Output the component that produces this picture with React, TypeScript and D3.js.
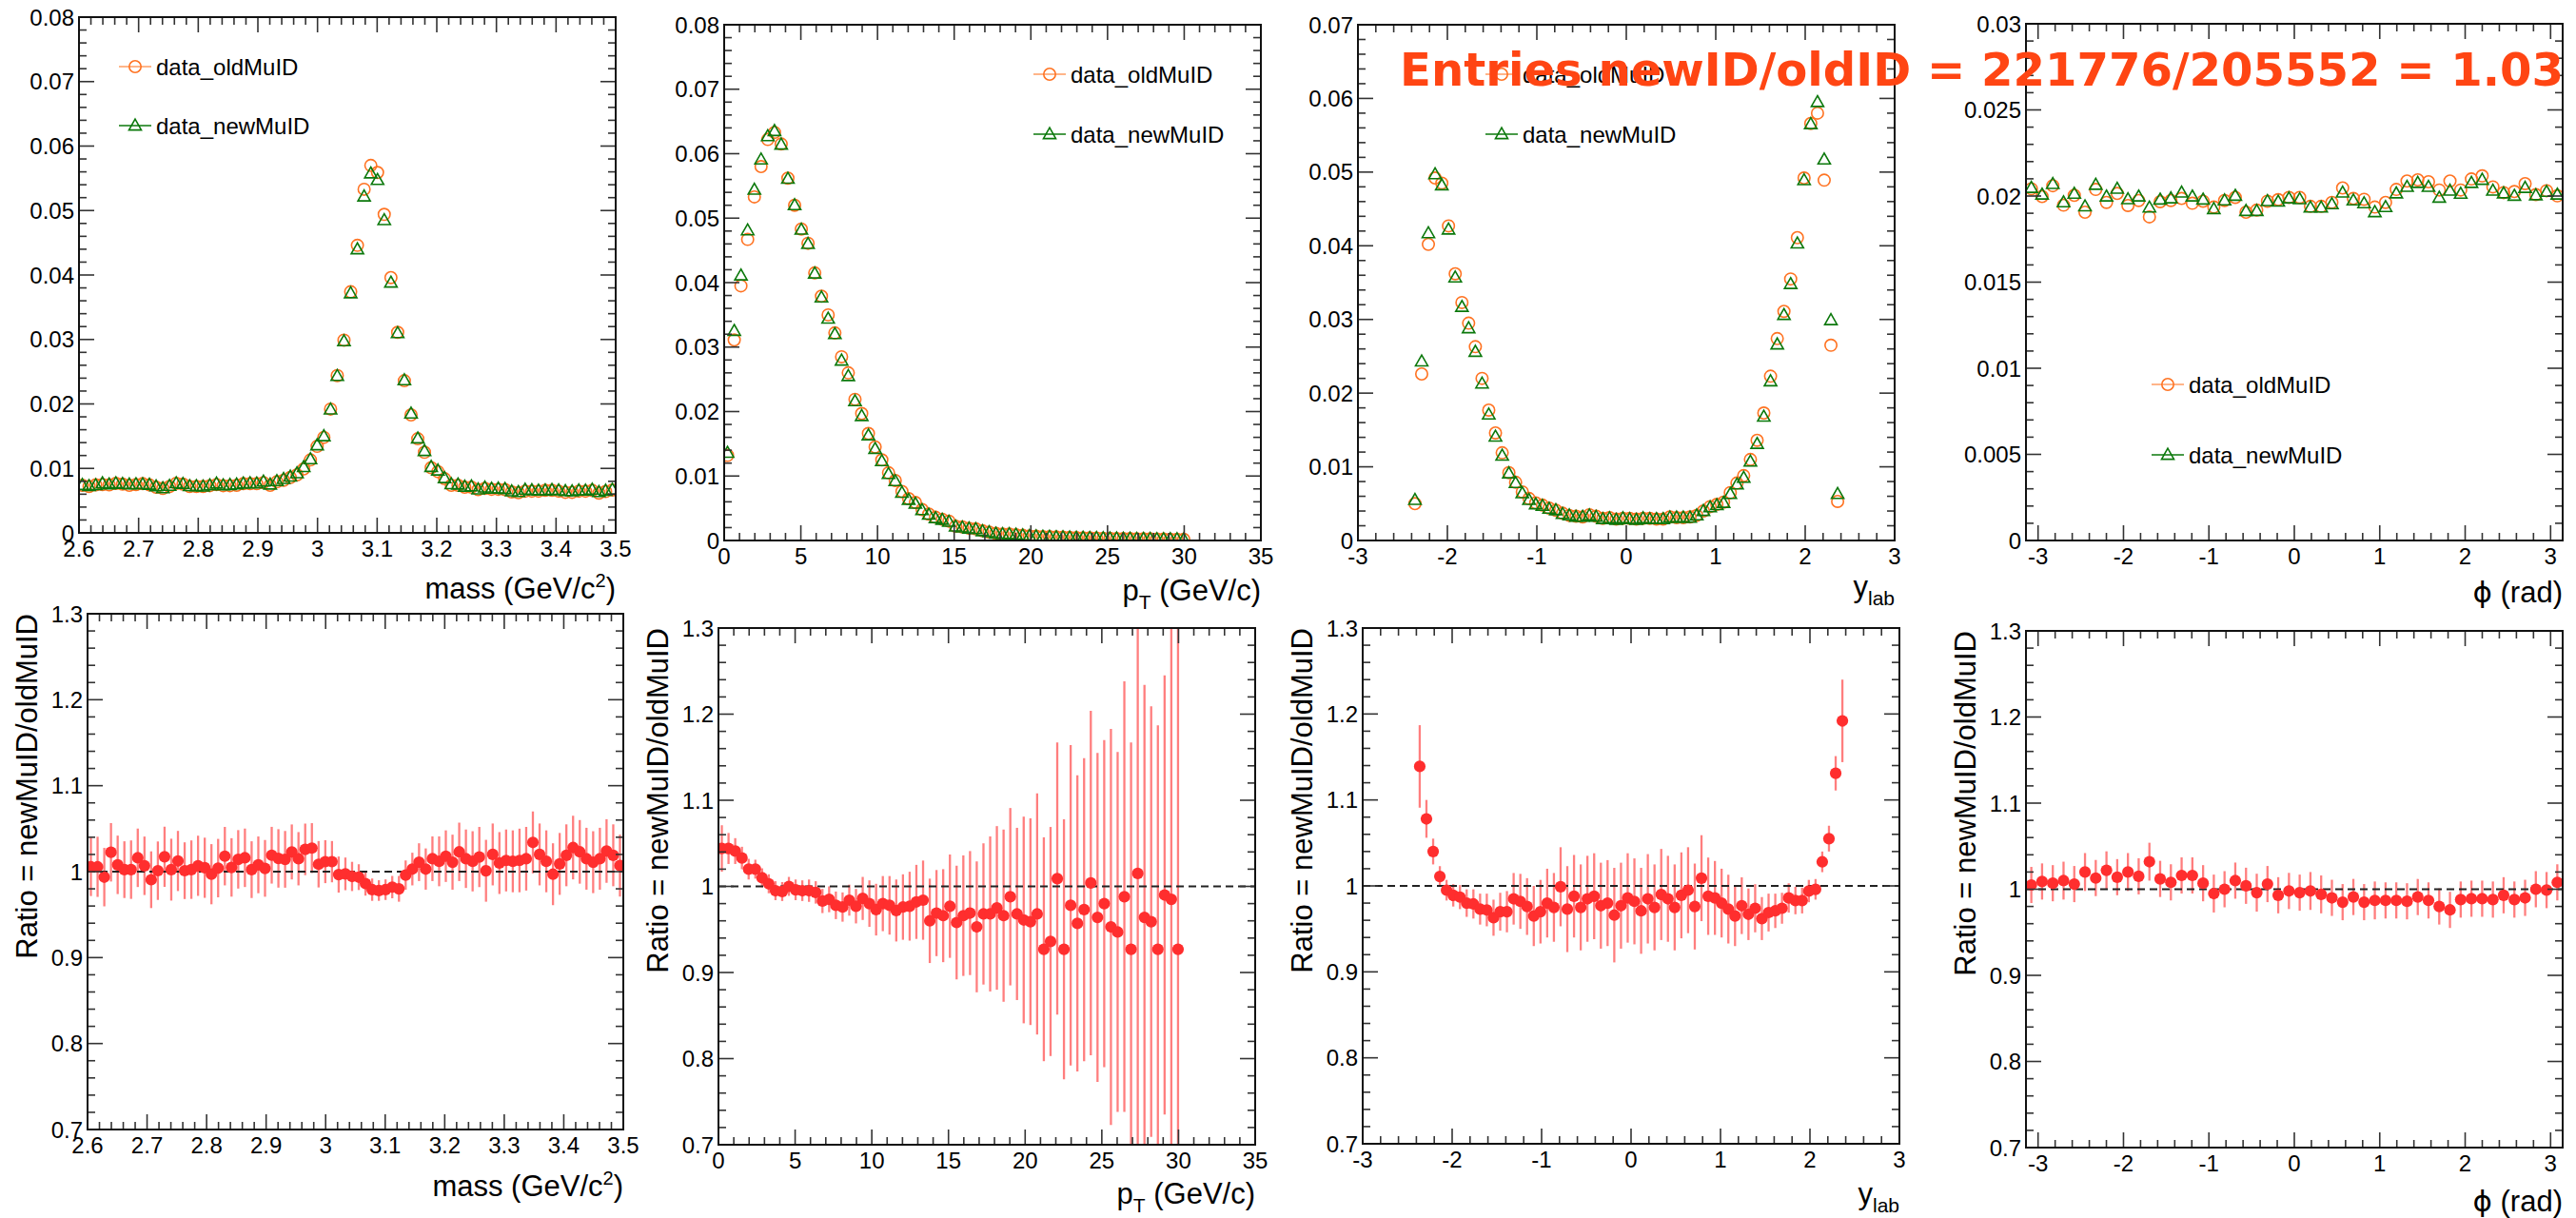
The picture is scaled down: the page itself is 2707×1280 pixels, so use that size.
import React from "react";
import * as d3 from "d3";

// ---------------- binning (lo, hi, number of bins, first filled bin) ----------------
const massBinning = { lo: 2.6, hi: 3.5, nbins: 80, first: 0 };
const ptBinning = { lo: 0, hi: 35, nbins: 80, first: 0 };
const yBinning = { lo: -3, hi: 3, nbins: 80, first: 8 };
const phiBinning = { lo: -Math.PI, hi: Math.PI, nbins: 50, first: 0 };

// ---------------- mass ----------------
const massOld = [
  0.00738, 0.0072, 0.00744, 0.0075, 0.00744, 0.00768, 0.00756, 0.00738, 0.0075, 0.00762,
  0.00744, 0.00708, 0.00689, 0.0072, 0.00768, 0.00756, 0.0072, 0.0072, 0.0072, 0.00732,
  0.0075, 0.00732, 0.00732, 0.00738, 0.00762, 0.00762, 0.00762, 0.0078, 0.00738, 0.00792,
  0.00816, 0.00859, 0.00901, 0.00992, 0.01131, 0.01342, 0.01481, 0.0192, 0.0244, 0.0299,
  0.0374, 0.0446, 0.0533, 0.057, 0.0559, 0.0494, 0.0396, 0.0311, 0.0236, 0.0183,
  0.0146, 0.0125, 0.0101, 0.0095, 0.0084, 0.00738, 0.00738, 0.00708, 0.00708, 0.00671,
  0.00689, 0.00677, 0.00677, 0.00671, 0.00635, 0.00623, 0.00647, 0.00647, 0.00647, 0.00659,
  0.00659, 0.00647, 0.00629, 0.00629, 0.00647, 0.00647, 0.00659, 0.00617, 0.00641, 0.00665,
];
const massNew = [
  0.00742, 0.00724, 0.00739, 0.00767, 0.0075, 0.0077, 0.00758, 0.0075, 0.00755, 0.00755,
  0.00745, 0.0072, 0.00691, 0.00729, 0.00769, 0.00758, 0.00725, 0.00723, 0.00718, 0.00735,
  0.00764, 0.00736, 0.00742, 0.0075, 0.00764, 0.00768, 0.00765, 0.00795, 0.00749, 0.00803,
  0.00835, 0.00872, 0.00924, 0.01019, 0.01141, 0.01358, 0.01498, 0.01914, 0.02434, 0.02973,
  0.03716, 0.04398, 0.05218, 0.05575, 0.05473, 0.04851, 0.03881, 0.03098, 0.02367, 0.0185,
  0.01464, 0.01269, 0.01022, 0.00967, 0.00849, 0.00755, 0.00749, 0.00716, 0.0072, 0.00672,
  0.00703, 0.00684, 0.00686, 0.00679, 0.00643, 0.00632, 0.00669, 0.0066, 0.00655, 0.00657,
  0.00665, 0.00659, 0.00647, 0.00643, 0.00657, 0.00654, 0.00669, 0.00632, 0.00653, 0.0067,
];
const massRatio = [
  1.0056, 1.0056, 0.9936, 1.0225, 1.0079, 1.0023, 1.0023, 1.0161, 1.0068, 0.9906,
  1.0011, 1.0173, 1.0023, 1.0124, 1.0011, 1.0023, 1.0068, 1.0045, 0.997, 1.0041,
  1.018, 1.0049, 1.0143, 1.0161, 1.0023, 1.0079, 1.0038, 1.0191, 1.0154, 1.0143,
  1.0229, 1.015, 1.0259, 1.0274, 1.0086, 1.0116, 1.0116, 0.9966, 0.9974, 0.9944,
  0.9936, 0.9861, 0.979, 0.978, 0.979, 0.982, 0.98, 0.996, 1.003, 1.011,
  1.003, 1.015, 1.012, 1.018, 1.011, 1.023, 1.015, 1.012, 1.017, 1.001,
  1.02, 1.01, 1.013, 1.012, 1.013, 1.015, 1.034, 1.02, 1.012, 0.997,
  1.009, 1.019, 1.028, 1.023, 1.015, 1.011, 1.015, 1.024, 1.019, 1.007,
];
const massErr = [
  0.034, 0.035, 0.034, 0.034, 0.034, 0.033, 0.034, 0.034, 0.034, 0.033,
  0.034, 0.035, 0.036, 0.035, 0.033, 0.034, 0.035, 0.035, 0.035, 0.034,
  0.034, 0.034, 0.034, 0.034, 0.033, 0.033, 0.033, 0.033, 0.034, 0.033,
  0.032, 0.031, 0.03, 0.029, 0.027, 0.025, 0.024, 0.021, 0.019, 0.017,
  0.015, 0.014, 0.013, 0.012, 0.012, 0.013, 0.015, 0.017, 0.019, 0.022,
  0.024, 0.026, 0.029, 0.03, 0.032, 0.034, 0.034, 0.035, 0.035, 0.036,
  0.036, 0.036, 0.036, 0.036, 0.037, 0.037, 0.036, 0.036, 0.036, 0.036,
  0.036, 0.036, 0.037, 0.037, 0.036, 0.036, 0.036, 0.037, 0.036, 0.036,
];

// ---------------- pT ----------------
const ptOld = [
  0.0132, 0.0311, 0.0395, 0.0467, 0.0533, 0.058, 0.0622, 0.0633, 0.0615, 0.0562,
  0.052, 0.0483, 0.0461, 0.0415, 0.0379, 0.035, 0.0322, 0.0285, 0.026, 0.0219,
  0.0197, 0.0166, 0.0145, 0.0125, 0.0105, 0.0093, 0.0076, 0.0065, 0.0059, 0.0048,
  0.0041, 0.0036, 0.0033, 0.003, 0.0022, 0.0021, 0.0019, 0.0018, 0.0015, 0.0013,
  0.0011, 0.001, 0.001, 0.0009, 0.0008, 0.0007, 0.00066, 0.0006, 0.0006, 0.00054,
  0.0005, 0.00047, 0.00044, 0.00042, 0.0004, 0.00037, 0.00035, 0.00033, 0.00031, 0.0003,
  0.00028, 0.00026, 0.00025, 0.00024, 0.00022, 0.00021, 0.0002, 0.00019, 0.00018,
];
const ptNew = [
  0.0136, 0.0325, 0.0411, 0.0481, 0.0544, 0.0591, 0.0627, 0.0635, 0.0614, 0.0561,
  0.052, 0.0482, 0.046, 0.0414, 0.0377, 0.0344, 0.032, 0.0279, 0.0255, 0.0216,
  0.0193, 0.0163, 0.0142, 0.0123, 0.0103, 0.0092, 0.0074, 0.0063, 0.0057, 0.0047,
  0.004, 0.00346, 0.0032, 0.0029, 0.00215, 0.00201, 0.00184, 0.00174, 0.00143, 0.00126,
  0.00106, 0.00098, 0.00097, 0.00089, 0.00077, 0.00067, 0.00063, 0.00058, 0.00056, 0.00051,
  0.0005, 0.00044, 0.00043, 0.0004, 0.00039, 0.00037, 0.00034, 0.00032, 0.0003, 0.00028,
  0.00028, 0.00024, 0.00025, 0.00023, 0.00021, 0.00019, 0.0002, 0.00019, 0.00017,
];
const ptRatio = [
  1.044, 1.044, 1.041, 1.033, 1.02, 1.02, 1.01, 1.003, 0.995, 0.994,
  1.0, 0.996, 0.995, 0.995, 0.993, 0.983, 0.985, 0.978, 0.976, 0.984,
  0.977, 0.986, 0.98, 0.973, 0.98, 0.978, 0.972, 0.976, 0.977, 0.982,
  0.984, 0.96, 0.969, 0.966, 0.977, 0.958, 0.966, 0.969, 0.953, 0.968,
  0.968, 0.975, 0.966, 0.988, 0.968, 0.961, 0.959, 0.968, 0.927, 0.936,
  1.009, 0.927, 0.978, 0.957, 0.973, 1.004, 0.964, 0.98, 0.953, 0.947,
  0.988, 0.927, 1.015, 0.964, 0.959, 0.927, 0.99, 0.985, 0.927,
];
const ptErr = [
  0.027, 0.018, 0.015, 0.013, 0.012, 0.011, 0.011, 0.011, 0.011, 0.011,
  0.011, 0.012, 0.012, 0.013, 0.013, 0.014, 0.015, 0.016, 0.017, 0.018,
  0.02, 0.025, 0.027, 0.03, 0.032, 0.034, 0.036, 0.038, 0.04, 0.043,
  0.046, 0.049, 0.05, 0.054, 0.06, 0.066, 0.07, 0.072, 0.076, 0.082,
  0.09, 0.095, 0.1, 0.103, 0.1, 0.12, 0.12, 0.14, 0.13, 0.133,
  0.158, 0.151, 0.186, 0.172, 0.176, 0.2, 0.191, 0.19, 0.23, 0.209,
  0.25, 0.24, 0.33, 0.27, 0.25, 0.26, 0.255, 0.33, 0.4,
];

// ---------------- y_lab ----------------
const yOld = [
  0.005, 0.0226, 0.0402, 0.0492, 0.0485, 0.0427, 0.0362, 0.0323, 0.0295, 0.0263,
  0.022, 0.0177, 0.0146, 0.0119, 0.0092, 0.0079, 0.0066, 0.0057, 0.0051, 0.0048,
  0.0044, 0.0041, 0.0037, 0.0034, 0.0033, 0.0032, 0.0035, 0.0033, 0.003, 0.0031,
  0.0029, 0.003, 0.003, 0.0029, 0.003, 0.003, 0.0029, 0.0029, 0.0032, 0.0031,
  0.0031, 0.0032, 0.0034, 0.004, 0.0046, 0.0049, 0.0052, 0.0065, 0.0078, 0.0088,
  0.011, 0.0136, 0.0173, 0.0223, 0.0274, 0.0311, 0.0355, 0.0411, 0.0492, 0.0566,
  0.058, 0.0489, 0.0265, 0.0053,
];
const yNew = [
  0.0055, 0.0243, 0.0417, 0.0497, 0.0482, 0.0422, 0.0357, 0.0317, 0.0288, 0.0256,
  0.0213, 0.0171, 0.0141, 0.0115, 0.0091, 0.0078, 0.0064, 0.0055, 0.0049, 0.0047,
  0.0043, 0.0041, 0.0036, 0.0034, 0.0032, 0.0032, 0.0034, 0.0032, 0.0029, 0.003,
  0.0028, 0.003, 0.0029, 0.0028, 0.003, 0.0029, 0.0029, 0.0029, 0.0031, 0.0031,
  0.0031, 0.0031, 0.0034, 0.004, 0.0045, 0.0048, 0.0051, 0.0063, 0.0076, 0.0085,
  0.0107, 0.0131, 0.0168, 0.0216, 0.0266, 0.0306, 0.0348, 0.0403, 0.0489, 0.0565,
  0.0595, 0.0517, 0.0299, 0.0063,
];
const yRatio = [
  1.139, 1.078, 1.04, 1.011, 0.995, 0.989, 0.987, 0.98, 0.979, 0.973,
  0.972, 0.963, 0.97, 0.97, 0.985, 0.982, 0.976, 0.965, 0.97, 0.98,
  0.975, 0.999, 0.973, 0.988, 0.975, 0.985, 0.988, 0.977, 0.98, 0.966,
  0.977, 0.986, 0.982, 0.971, 0.985, 0.975, 0.99, 0.985, 0.975, 0.989,
  0.995, 0.976, 1.009, 0.988, 0.986, 0.98, 0.973, 0.965, 0.977, 0.967,
  0.974, 0.962, 0.969, 0.971, 0.974, 0.986, 0.983, 0.983, 0.994, 0.996,
  1.028, 1.055, 1.131, 1.192,
];
const yErr = [
  0.048, 0.022, 0.015, 0.012, 0.012, 0.013, 0.014, 0.016, 0.017, 0.018,
  0.019, 0.021, 0.022, 0.024, 0.03, 0.032, 0.033, 0.035, 0.037, 0.04,
  0.04, 0.046, 0.05, 0.048, 0.05, 0.05, 0.05, 0.05, 0.05, 0.055,
  0.05, 0.052, 0.05, 0.05, 0.052, 0.05, 0.053, 0.05, 0.05, 0.05,
  0.05, 0.05, 0.05, 0.045, 0.043, 0.04, 0.04, 0.035, 0.033, 0.03,
  0.028, 0.025, 0.022, 0.02, 0.018, 0.017, 0.016, 0.015, 0.013, 0.012,
  0.012, 0.015, 0.02, 0.048,
];

// ---------------- phi ----------------
const phiOld = [
  0.02042, 0.01997, 0.0206, 0.01947, 0.02004, 0.01906, 0.02038, 0.01963, 0.02015, 0.01945,
  0.01974, 0.01879, 0.01967, 0.01974, 0.01986, 0.01958, 0.0197, 0.01936, 0.01974, 0.01992,
  0.01906, 0.01918, 0.0197, 0.01979, 0.01992, 0.01992, 0.0194, 0.0194, 0.01963, 0.02047,
  0.01986, 0.01981, 0.01936, 0.01963, 0.02038, 0.02087, 0.02094, 0.02083, 0.02035, 0.02087,
  0.02035, 0.02099, 0.02117, 0.02053, 0.0202, 0.02026, 0.02072, 0.02008, 0.02031, 0.02001,
];
const phiNew = [
  0.02047, 0.02008, 0.0207, 0.01963, 0.02013, 0.0194, 0.02065, 0.01997, 0.02042, 0.01981,
  0.01997, 0.01933, 0.01979, 0.01986, 0.0202, 0.01997, 0.01979, 0.01924, 0.01974, 0.02001,
  0.01913, 0.01913, 0.0197, 0.01967, 0.01986, 0.01981, 0.01933, 0.01933, 0.01952, 0.0202,
  0.01974, 0.01958, 0.01906, 0.01936, 0.02015, 0.02053, 0.02076, 0.02053, 0.0199, 0.02031,
  0.02013, 0.02076, 0.02094, 0.02031, 0.02015, 0.02001, 0.02047, 0.02004, 0.02024, 0.02008,
];
const phiRatio = [
  1.005, 1.009, 1.007, 1.01, 1.006, 1.02, 1.013, 1.022, 1.014, 1.02,
  1.015, 1.032, 1.012, 1.008, 1.016, 1.016, 1.007, 0.995, 1.0, 1.01,
  1.004, 0.996, 1.006, 0.993, 0.998, 0.996, 0.998, 0.994, 0.99, 0.985,
  0.991, 0.985, 0.987, 0.987, 0.987, 0.986, 0.991, 0.987, 0.98, 0.976,
  0.988, 0.989, 0.989, 0.988, 0.993, 0.988, 0.99, 1.0, 0.999, 1.008,
];
const phiErr = [
  0.021, 0.021, 0.021, 0.022, 0.021, 0.022, 0.021, 0.022, 0.021, 0.022,
  0.021, 0.022, 0.021, 0.021, 0.021, 0.021, 0.021, 0.022, 0.021, 0.021,
  0.021, 0.022, 0.021, 0.021, 0.021, 0.021, 0.022, 0.022, 0.021, 0.021,
  0.021, 0.021, 0.022, 0.021, 0.021, 0.021, 0.021, 0.021, 0.021, 0.021,
  0.021, 0.021, 0.021, 0.021, 0.021, 0.021, 0.021, 0.021, 0.021, 0.021,
];

const legendLabels = ["data_oldMuID", "data_newMuID"];
const entriesText = "Entries newID/oldID = 221776/205552 = 1.03";
const ratioTitle = "Ratio = newMuID/oldMuID";

// ---------------- styling / layout ----------------
const W = 2707;
const H = 1280;
const FONT = "'Liberation Sans', Arial, Helvetica, sans-serif";
const ORANGE = "#ff7322";
const ORANGE_LINE = "#ff9d62";
const GREEN = "#0b780b";
const RED = "#ff2e2e";

type Bin = { lo: number; hi: number; nbins: number; first: number };
type Box = { x0: number; y0: number; x1: number; y1: number };

const centers = (b: Bin, n: number) =>
  d3.range(n).map((i) => b.lo + ((b.first + i + 0.5) * (b.hi - b.lo)) / b.nbins);

const tickVals = (lo: number, hi: number, step: number) => {
  const a = Math.ceil(lo / step - 1e-6);
  const b = Math.floor(hi / step + 1e-6);
  return d3.range(a, b + 1).map((k) => +(k * step).toFixed(10));
};
const fmt = (v: number) => {
  const s = parseFloat(v.toFixed(6));
  return (Object.is(s, -0) ? 0 : s).toString();
};

type AxisSpec = { dom: [number, number]; major: number; minor: number };

function Frame({ box, xa, ya, xTitle, yTitle, titleDy }: { box: Box; xa: AxisSpec; ya: AxisSpec; xTitle: React.ReactNode; yTitle?: string; titleDy: number }) {
  const xs = d3.scaleLinear().domain(xa.dom).range([box.x0, box.x1]);
  const ys = d3.scaleLinear().domain(ya.dom).range([box.y1, box.y0]);
  const MAJ = 16;
  const MIN = 8;
  const xMaj = tickVals(xa.dom[0], xa.dom[1], xa.major);
  const xMin = tickVals(xa.dom[0], xa.dom[1], xa.minor);
  const yMaj = tickVals(ya.dom[0], ya.dom[1], ya.major);
  const yMin = tickVals(ya.dom[0], ya.dom[1], ya.minor);
  const isMaj = (v: number, step: number) => Math.abs(v / step - Math.round(v / step)) < 1e-6;
  const tk = "#333";
  return (
    <g>
      {xMin.map((v, i) => {
        const L = isMaj(v, xa.major) ? MAJ : MIN;
        const x = xs(v);
        return (
          <g key={"xt" + i}>
            <line x1={x} x2={x} y1={box.y1} y2={box.y1 - L} stroke={tk} strokeWidth={1.6} />
            <line x1={x} x2={x} y1={box.y0} y2={box.y0 + L} stroke={tk} strokeWidth={1.6} />
          </g>
        );
      })}
      {yMin.map((v, i) => {
        const L = isMaj(v, ya.major) ? MAJ : MIN;
        const y = ys(v);
        return (
          <g key={"yt" + i}>
            <line x1={box.x0} x2={box.x0 + L} y1={y} y2={y} stroke={tk} strokeWidth={1.6} />
            <line x1={box.x1} x2={box.x1 - L} y1={y} y2={y} stroke={tk} strokeWidth={1.6} />
          </g>
        );
      })}
      <rect x={box.x0} y={box.y0} width={box.x1 - box.x0} height={box.y1 - box.y0} fill="none" stroke="#111" strokeWidth={2} />
      {xMaj.map((v, i) => (
        <text key={"xl" + i} x={xs(v)} y={box.y1 + 25} fontSize={24} fontFamily={FONT} textAnchor="middle" fill="#000">
          {fmt(v)}
        </text>
      ))}
      {yMaj.map((v, i) => (
        <text key={"yl" + i} x={box.x0 - 5} y={ys(v)} dy="0.36em" fontSize={24} fontFamily={FONT} textAnchor="end" fill="#000">
          {fmt(v)}
        </text>
      ))}
      <text x={box.x1} y={box.y1 + titleDy} fontSize={31} fontFamily={FONT} textAnchor="end" fill="#000">
        {xTitle}
      </text>
      {yTitle ? (
        <text transform={`translate(${box.x0 - 53},${box.y0}) rotate(-90)`} fontSize={31} fontFamily={FONT} textAnchor="end" fill="#000">
          {yTitle}
        </text>
      ) : null}
    </g>
  );
}

const triPath = "M0,-6.8 L6.5,4.6 L-6.5,4.6 Z";
const CIRC_R = 6.2;

function TopPanel({ id, box, bin, old, nw, xa, ya, xTitle, titleDy, legend }: any) {
  const xs = d3.scaleLinear().domain(xa.dom).range([box.x0, box.x1]);
  const ys = d3.scaleLinear().domain(ya.dom).range([box.y1, box.y0]);
  const cx = centers(bin, old.length);
  return (
    <g>
      <defs>
        <clipPath id={id}>
          <rect x={box.x0} y={box.y0} width={box.x1 - box.x0} height={box.y1 - box.y0} />
        </clipPath>
      </defs>
      <g clipPath={`url(#${id})`}>
        {old.map((v: number, i: number) => (
          <circle key={"o" + i} cx={xs(cx[i])} cy={ys(v)} r={CIRC_R} fill="none" stroke={ORANGE} strokeWidth={1.6} />
        ))}
        {nw.map((v: number, i: number) => (
          <path key={"n" + i} d={triPath} transform={`translate(${xs(cx[i])},${ys(v)})`} fill="none" stroke={GREEN} strokeWidth={1.6} />
        ))}
      </g>
      <Frame box={box} xa={xa} ya={ya} xTitle={xTitle} titleDy={titleDy} />
      <g>
        <line x1={legend.x - 17} x2={legend.x + 17} y1={legend.ya} y2={legend.ya} stroke={ORANGE_LINE} strokeWidth={1.6} />
        <circle cx={legend.x} cy={legend.ya} r={CIRC_R} fill="none" stroke={ORANGE} strokeWidth={1.6} />
        <text x={legend.x + 22} y={legend.ya} dy="0.36em" fontSize={24} fontFamily={FONT} fill="#000">
          {legendLabels[0]}
        </text>
        <line x1={legend.x - 17} x2={legend.x + 17} y1={legend.yb} y2={legend.yb} stroke={GREEN} strokeWidth={1.6} />
        <path d={triPath} transform={`translate(${legend.x},${legend.yb})`} fill="none" stroke={GREEN} strokeWidth={1.6} />
        <text x={legend.x + 22} y={legend.yb} dy="0.36em" fontSize={24} fontFamily={FONT} fill="#000">
          {legendLabels[1]}
        </text>
      </g>
    </g>
  );
}

function RatioPanel({ id, box, bin, ratio, err, xa, xTitle, titleDy }: any) {
  const ya: AxisSpec = { dom: [0.7, 1.3], major: 0.1, minor: 0.02 };
  const xs = d3.scaleLinear().domain(xa.dom).range([box.x0, box.x1]);
  const ys = d3.scaleLinear().domain(ya.dom).range([box.y1, box.y0]);
  const cx = centers(bin, ratio.length);
  return (
    <g>
      <defs>
        <clipPath id={id}>
          <rect x={box.x0} y={box.y0} width={box.x1 - box.x0} height={box.y1 - box.y0} />
        </clipPath>
      </defs>
      <g clipPath={`url(#${id})`}>
        {ratio.map((v: number, i: number) => (
          <line key={"e" + i} x1={xs(cx[i])} x2={xs(cx[i])} y1={ys(v - err[i])} y2={ys(v + err[i])} stroke={RED} strokeOpacity={0.62} strokeWidth={2.3} />
        ))}
        <line x1={box.x0} x2={box.x1} y1={ys(1)} y2={ys(1)} stroke="#222" strokeWidth={1.8} strokeDasharray="8,5" />
        {ratio.map((v: number, i: number) => (
          <circle key={"m" + i} cx={xs(cx[i])} cy={ys(v)} r={6.1} fill={RED} />
        ))}
      </g>
      <Frame box={box} xa={xa} ya={ya} xTitle={xTitle} yTitle={ratioTitle} titleDy={titleDy} />
    </g>
  );
}

const massTitle = (
  <>
    mass (GeV/c<tspan dy={-12} fontSize={20}>2</tspan>
    <tspan dy={12}>)</tspan>
  </>
);
const ptTitle = (
  <>
    p<tspan dy={9} fontSize={21}>T</tspan>
    <tspan dy={-9}> (GeV/c)</tspan>
  </>
);
const yTitleNode = (
  <>
    y<tspan dy={9} fontSize={21}>lab</tspan>
  </>
);
const phiTitle = (
  <>
    <tspan fontFamily="'DejaVu Sans', sans-serif">{"\u03D5"}</tspan> (rad)
  </>
);

const massX: AxisSpec = { dom: [2.6, 3.5], major: 0.1, minor: 0.02 };
const ptX: AxisSpec = { dom: [0, 35], major: 5, minor: 1 };
const yX: AxisSpec = { dom: [-3, 3], major: 1, minor: 0.2 };
const phiX: AxisSpec = { dom: [-Math.PI, Math.PI], major: 1, minor: 0.2 };

export default function App() {
  return (
    <svg width={W} height={H} viewBox={`0 0 ${W} ${H}`} style={{ position: "absolute", left: 0, top: 0, display: "block", background: "#fff" }}>
      <rect x={0} y={0} width={W} height={H} fill="#fff" />
      <TopPanel id="c1" box={{ x0: 83, y0: 18, x1: 647, y1: 560 }} bin={massBinning} old={massOld} nw={massNew}
        xa={massX} ya={{ dom: [0, 0.08], major: 0.01, minor: 0.002 }} xTitle={massTitle} titleDy={69}
        legend={{ x: 142, ya: 70, yb: 132 }} />
      <TopPanel id="c2" box={{ x0: 761, y0: 26, x1: 1325, y1: 568 }} bin={ptBinning} old={ptOld} nw={ptNew}
        xa={ptX} ya={{ dom: [0, 0.08], major: 0.01, minor: 0.002 }} xTitle={ptTitle} titleDy={63}
        legend={{ x: 1103, ya: 78, yb: 141 }} />
      <TopPanel id="c3" box={{ x0: 1427, y0: 26, x1: 1991, y1: 568 }} bin={yBinning} old={yOld} nw={yNew}
        xa={yX} ya={{ dom: [0, 0.07], major: 0.01, minor: 0.002 }} xTitle={yTitleNode} titleDy={59}
        legend={{ x: 1578, ya: 78, yb: 141 }} />
      <TopPanel id="c4" box={{ x0: 2129, y0: 25, x1: 2693, y1: 568 }} bin={phiBinning} old={phiOld} nw={phiNew}
        xa={phiX} ya={{ dom: [0, 0.03], major: 0.005, minor: 0.001 }} xTitle={phiTitle} titleDy={65}
        legend={{ x: 2278, ya: 404, yb: 478 }} />

      <RatioPanel id="c5" box={{ x0: 92, y0: 645, x1: 655, y1: 1187 }} bin={massBinning} ratio={massRatio} err={massErr}
        xa={massX} xTitle={massTitle} titleDy={70} />
      <RatioPanel id="c6" box={{ x0: 755, y0: 660, x1: 1319, y1: 1203 }} bin={ptBinning} ratio={ptRatio} err={ptErr}
        xa={ptX} xTitle={ptTitle} titleDy={62} />
      <RatioPanel id="c7" box={{ x0: 1432, y0: 660, x1: 1996, y1: 1202 }} bin={yBinning} ratio={yRatio} err={yErr}
        xa={yX} xTitle={yTitleNode} titleDy={63} />
      <RatioPanel id="c8" box={{ x0: 2129, y0: 663, x1: 2693, y1: 1206 }} bin={phiBinning} ratio={phiRatio} err={phiErr}
        xa={phiX} xTitle={phiTitle} titleDy={67} />

      <text x={1471} y={90} fontFamily="'DejaVu Sans', Verdana, sans-serif" fontWeight="bold" fontSize={48} fill="#ff4513"
        textLength={1223} lengthAdjust="spacingAndGlyphs">
        {entriesText}
      </text>
    </svg>
  );
}
